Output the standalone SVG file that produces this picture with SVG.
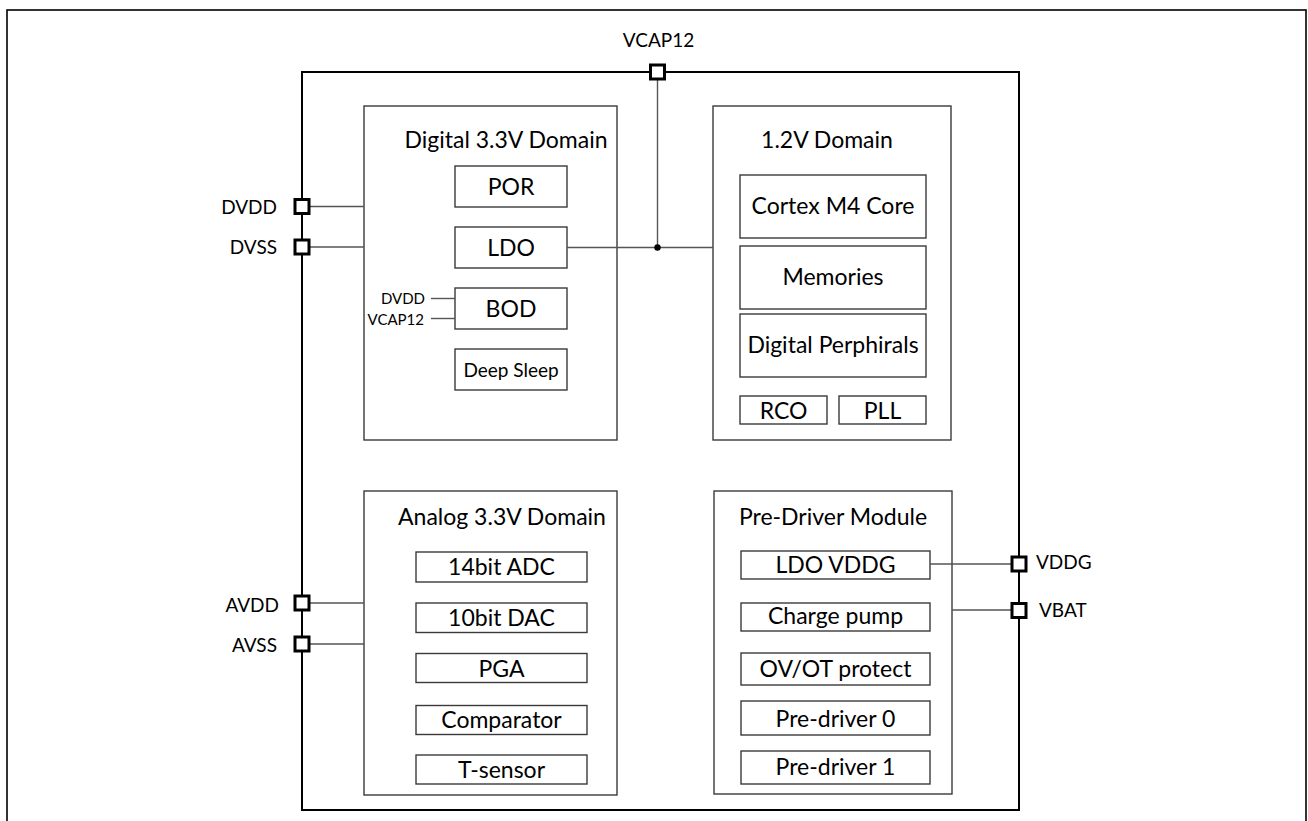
<svg xmlns="http://www.w3.org/2000/svg" width="1308" height="821" viewBox="0 0 1308 821">
<style>
text{font-family:Lato,"Liberation Sans",sans-serif;fill:#000}
.t{font-size:23px;text-anchor:middle}
.p{font-size:19px}
.s{font-size:15px;text-anchor:end}
.box{fill:#fff;stroke:#3a3a3a;stroke-width:1.4}
.pad{fill:#fff;stroke:#000;stroke-width:3}
.w{stroke:#555;stroke-width:1.4;fill:none}
</style>
<rect x="7" y="10" width="1299" height="830" fill="#fff" stroke="#000" stroke-width="1.6"/>
<g id="chip">
<rect x="302" y="72" width="717" height="738" fill="none" stroke="#000" stroke-width="2"/>
</g>
<g id="digital">
<rect class="box" x="364" y="106" width="253" height="334"/>
<text class="t" x="506" y="147.5">Digital 3.3V Domain</text>
<rect class="box" x="455" y="166" width="112" height="41"/>
<text class="t" x="511" y="195">POR</text>
<rect class="box" x="455" y="227" width="112" height="41"/>
<text class="t" x="511" y="256">LDO</text>
<rect class="box" x="455" y="288" width="112" height="41"/>
<text class="t" x="511" y="317">BOD</text>
<rect class="box" x="455" y="349" width="112" height="41"/>
<text x="511" y="377" font-size="19" text-anchor="middle">Deep Sleep</text>
<text class="s" x="425" y="304">DVDD</text>
<text class="s" x="424" y="324.5">VCAP12</text>
</g>
<g id="domain12">
<rect class="box" x="713" y="106" width="238" height="334"/>
<text class="t" x="827" y="147.5">1.2V Domain</text>
<rect class="box" x="740" y="175" width="186" height="63"/>
<text class="t" x="833" y="214">Cortex M4 Core</text>
<rect class="box" x="740" y="246" width="186" height="63"/>
<text class="t" x="833" y="285">Memories</text>
<rect class="box" x="740" y="314" width="186" height="63"/>
<text class="t" x="833" y="353">Digital Perphirals</text>
<rect class="box" x="740" y="396" width="87" height="28"/>
<text class="t" x="783.5" y="419">RCO</text>
<rect class="box" x="839" y="396" width="87" height="28"/>
<text class="t" x="882.5" y="419">PLL</text>
</g>
<g id="analog">
<rect class="box" x="364" y="491" width="253" height="304"/>
<text class="t" x="502" y="525">Analog 3.3V Domain</text>
<rect class="box" x="416" y="552" width="171" height="30"/>
<text class="t" x="501.5" y="575">14bit ADC</text>
<rect class="box" x="416" y="603" width="171" height="29.5"/>
<text class="t" x="501.5" y="625.5">10bit DAC</text>
<rect class="box" x="416" y="653.5" width="171" height="29"/>
<text class="t" x="501.5" y="676.5">PGA</text>
<rect class="box" x="416" y="705.5" width="171" height="29"/>
<text class="t" x="501.5" y="727.5">Comparator</text>
<rect class="box" x="416" y="755" width="171" height="29"/>
<text class="t" x="501.5" y="777.5">T-sensor</text>
</g>
<g id="predriver">
<rect class="box" x="714" y="491" width="238" height="303"/>
<text class="t" x="833" y="525">Pre-Driver Module</text>
<rect class="box" x="741" y="551" width="189" height="28"/>
<text class="t" x="835.5" y="572.5">LDO VDDG</text>
<rect class="box" x="741" y="603" width="189" height="28"/>
<text class="t" x="835.5" y="624">Charge pump</text>
<rect class="box" x="741" y="653" width="189" height="32"/>
<text class="t" x="835.5" y="676.5">OV/OT protect</text>
<rect class="box" x="741" y="701" width="189" height="34"/>
<text class="t" x="835.5" y="726.5">Pre-driver 0</text>
<rect class="box" x="741" y="751" width="189" height="33"/>
<text class="t" x="835.5" y="775">Pre-driver 1</text>
</g>
<g id="connectors">
<line class="w" x1="302" y1="206.5" x2="364" y2="206.5"/>
<line class="w" x1="302" y1="247" x2="364" y2="247"/>
<line class="w" x1="302" y1="603" x2="364" y2="603"/>
<line class="w" x1="302" y1="644" x2="364" y2="644"/>
<line class="w" x1="567" y1="247.5" x2="713" y2="247.5"/>
<line class="w" x1="657.5" y1="72" x2="657.5" y2="247.5"/>
<circle cx="657.5" cy="247.5" r="3.2" fill="#000"/>
<line class="w" x1="431" y1="298.5" x2="455" y2="298.5"/>
<line class="w" x1="431" y1="318.5" x2="455" y2="318.5"/>
<line class="w" x1="930" y1="564" x2="1019" y2="564"/>
<line class="w" x1="952" y1="610" x2="1019" y2="610"/>
</g>
<g id="pins">
<rect class="pad" x="295" y="199.5" width="14" height="14"/>
<rect class="pad" x="295" y="240" width="14" height="14"/>
<rect class="pad" x="295" y="596" width="14" height="14"/>
<rect class="pad" x="295" y="637" width="14" height="14"/>
<rect class="pad" x="650.5" y="65" width="14" height="14"/>
<rect class="pad" x="1012" y="557" width="14" height="14"/>
<rect class="pad" x="1012" y="603.5" width="14" height="14"/>
<text class="p" x="277" y="214" text-anchor="end">DVDD</text>
<text class="p" x="277" y="254" text-anchor="end">DVSS</text>
<text class="p" x="279" y="611.5" text-anchor="end">AVDD</text>
<text class="p" x="277" y="652" text-anchor="end">AVSS</text>
<text class="p" x="658.5" y="46.5" text-anchor="middle">VCAP12</text>
<text class="p" x="1036" y="568.5">VDDG</text>
<text class="p" x="1039" y="617">VBAT</text>
</g>
</svg>
